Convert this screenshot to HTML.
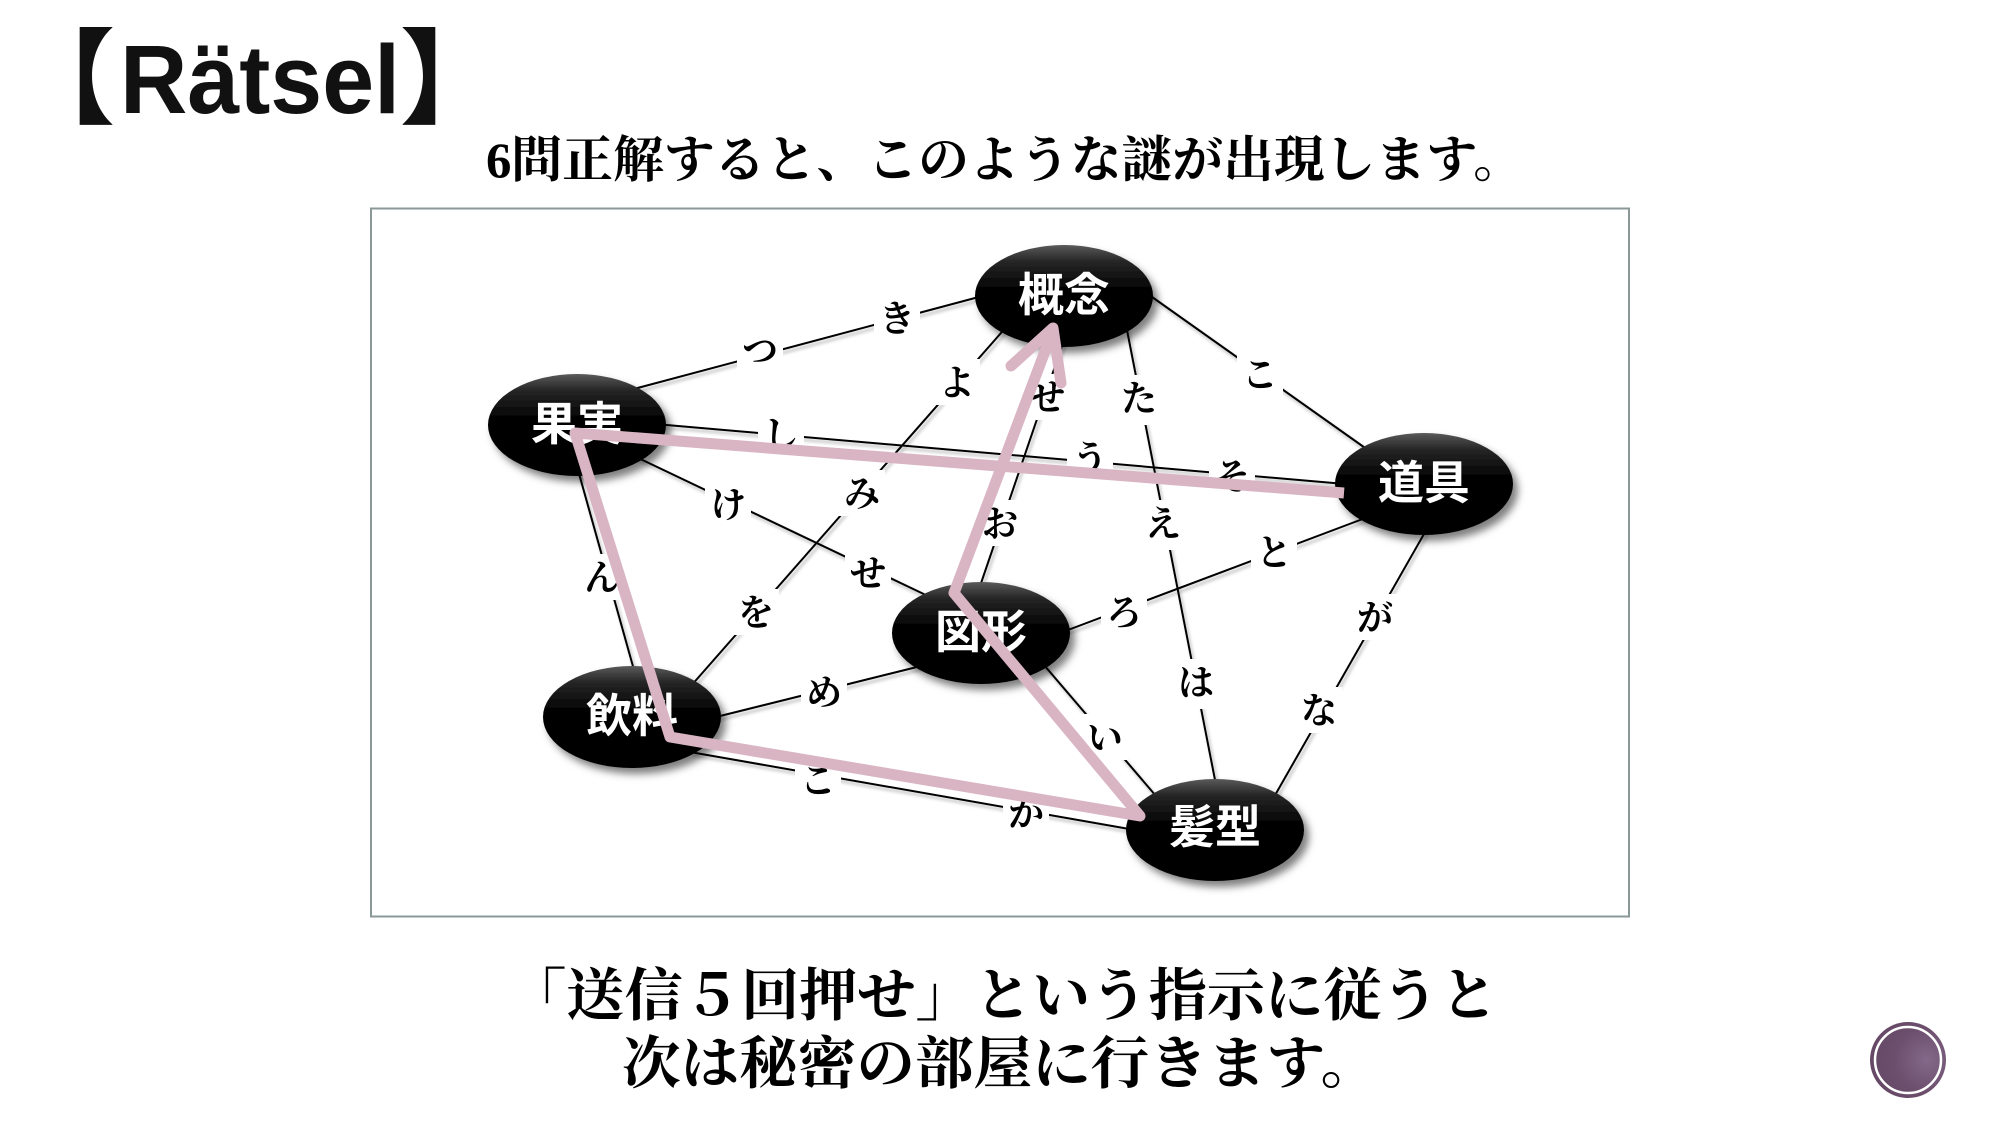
<!DOCTYPE html>
<html>
<head>
<meta charset="utf-8">
<style>
  html,body{margin:0;padding:0;background:#fff;}
  body{width:2000px;height:1125px;overflow:hidden;}
  svg{display:block;}
  .lbl{font-family:"Liberation Serif","Noto Serif CJK SC",serif;font-weight:bold;font-size:36px;fill:#000;text-anchor:middle;}
  .nd{font-family:"Liberation Sans","Noto Sans CJK JP",sans-serif;font-weight:bold;font-size:46px;fill:#fff;text-anchor:middle;}
  .ser{font-family:"Liberation Serif","Noto Serif CJK SC",serif;font-weight:bold;fill:#000;}
</style>
</head>
<body>
<svg width="2000" height="1125" viewBox="0 0 2000 1125" xmlns="http://www.w3.org/2000/svg">
  <defs>
    <linearGradient id="ng" x1="0" y1="0" x2="0" y2="1">
      <stop offset="0" stop-color="#5a5a5a"/>
      <stop offset="0.16" stop-color="#262626"/>
      <stop offset="0.42" stop-color="#050505"/>
      <stop offset="1" stop-color="#000"/>
    </linearGradient>
    <filter id="nsh" x="-30%" y="-30%" width="160%" height="170%">
      <feDropShadow dx="5" dy="6" stdDeviation="4" flood-color="#000" flood-opacity="0.5"/>
    </filter>
    <filter id="lsh" x="-10%" y="-10%" width="120%" height="120%">
      <feDropShadow dx="2" dy="3" stdDeviation="1.5" flood-color="#000" flood-opacity="0.3"/>
    </filter>
    <radialGradient id="cg" cx="0.75" cy="0.5" r="0.7">
      <stop offset="0" stop-color="#85698a"/>
      <stop offset="0.6" stop-color="#6c4f6d"/>
      <stop offset="1" stop-color="#664867"/>
    </radialGradient>
  </defs>

  <!-- Title -->
  <text x="12" y="115" font-family="'Noto Sans CJK JP',sans-serif" font-weight="900" font-size="103" fill="#111">【</text>
  <text x="120" y="113" font-family="'Liberation Sans',sans-serif" font-weight="bold" font-size="97" fill="#111" textLength="280" lengthAdjust="spacingAndGlyphs">Rätsel</text>
  <text x="400" y="115" font-family="'Noto Sans CJK JP',sans-serif" font-weight="900" font-size="103" fill="#111">】</text>

  <!-- Subtitle -->
  <text class="ser" x="486" y="177" font-size="50" textLength="1038" lengthAdjust="spacingAndGlyphs">6問正解すると、このような謎が出現します。</text>

  <!-- Frame -->
  <rect x="371" y="208.5" width="1258" height="708" fill="#fff" stroke="#8a9898" stroke-width="2"/>

  <!-- Connector lines -->
  <g stroke="#000" stroke-width="2" fill="none" filter="url(#lsh)">
    <line x1="630" y1="390" x2="990" y2="294"/>
    <line x1="655" y1="424" x2="1345" y2="484"/>
    <line x1="632" y1="455" x2="930" y2="597"/>
    <line x1="578" y1="470" x2="634" y2="670"/>
    <line x1="690" y1="687" x2="1008" y2="325"/>
    <line x1="712" y1="718" x2="925" y2="665"/>
    <line x1="690" y1="752" x2="1135" y2="830"/>
    <line x1="1064" y1="340" x2="978" y2="592"/>
    <line x1="1126" y1="325" x2="1216" y2="785"/>
    <line x1="1145" y1="292" x2="1368" y2="450"/>
    <line x1="1060" y1="633" x2="1368" y2="517"/>
    <line x1="1428" y1="527" x2="1274" y2="797"/>
    <line x1="1038" y1="658" x2="1156" y2="796"/>
  </g>

  <!-- Label boxes -->
  <g fill="#fff">
    <rect x="737" y="327" width="46" height="46"/>
    <rect x="874" y="295" width="46" height="46"/>
    <rect x="934" y="359" width="46" height="46"/>
    <rect x="758" y="411" width="46" height="46"/>
    <rect x="1067" y="435" width="46" height="46"/>
    <rect x="1209" y="453" width="46" height="46"/>
    <rect x="705" y="481" width="46" height="46"/>
    <rect x="839" y="470" width="46" height="46"/>
    <rect x="845" y="550" width="46" height="46"/>
    <rect x="579" y="554" width="46" height="46"/>
    <rect x="733" y="589" width="46" height="46"/>
    <rect x="801" y="669" width="46" height="46"/>
    <rect x="795" y="757" width="46" height="46"/>
    <rect x="1003" y="790" width="46" height="46"/>
    <rect x="1024" y="374" width="46" height="46"/>
    <rect x="977" y="500" width="46" height="46"/>
    <rect x="1116" y="375" width="46" height="50"/>
    <rect x="1140" y="500" width="46" height="50"/>
    <rect x="1173" y="659" width="46" height="50"/>
    <rect x="1237" y="351" width="46" height="46"/>
    <rect x="1251" y="529" width="46" height="46"/>
    <rect x="1101" y="589" width="46" height="46"/>
    <rect x="1352" y="594" width="46" height="46"/>
    <rect x="1296" y="687" width="46" height="46"/>
    <rect x="1082" y="714" width="46" height="46"/>
  </g>

  <!-- Labels -->
  <g class="lbl">
    <text x="760" y="363">つ</text>
    <text x="897" y="331">き</text>
    <text x="957" y="395">よ</text>
    <text x="781" y="447">し</text>
    <text x="1090" y="471">う</text>
    <text x="1232" y="489">そ</text>
    <text x="728" y="517">け</text>
    <text x="862" y="506">み</text>
    <text x="868" y="586">せ</text>
    <text x="602" y="590">ん</text>
    <text x="756" y="625">を</text>
    <text x="824" y="705">め</text>
    <text x="818" y="793">こ</text>
    <text x="1026" y="826">か</text>
    <text x="1047" y="410">せ</text>
    <text x="1000" y="536">お</text>
    <text x="1139" y="411">た</text>
    <text x="1163" y="536">え</text>
    <text x="1196" y="695">は</text>
    <text x="1260" y="387">こ</text>
    <text x="1274" y="565">と</text>
    <text x="1124" y="625">ろ</text>
    <text x="1375" y="630">が</text>
    <text x="1319" y="723">な</text>
    <text x="1105" y="750">い</text>
  </g>

  <!-- Nodes -->
  <g fill="url(#ng)" filter="url(#nsh)">
    <ellipse cx="1064" cy="296" rx="89" ry="51"/>
    <ellipse cx="577" cy="425" rx="89" ry="51"/>
    <ellipse cx="1424" cy="484" rx="89" ry="51"/>
    <ellipse cx="981" cy="633" rx="89" ry="51"/>
    <ellipse cx="632" cy="717" rx="89" ry="51"/>
    <ellipse cx="1215" cy="830" rx="89" ry="51"/>
  </g>
  <g class="nd">
    <text x="1064" y="311">概念</text>
    <text x="577" y="440">果実</text>
    <text x="1424" y="499">道具</text>
    <text x="981" y="648">図形</text>
    <text x="632" y="732">飲料</text>
    <text x="1215" y="843">髪型</text>
  </g>

  <!-- Pink path -->
  <g stroke="#d9b5c4" stroke-width="11" fill="none" stroke-linejoin="round">
    <polyline points="1344,493 575,433 670,737 1140,816 954,593 1053,330" stroke-linecap="butt"/>
    <polyline points="1011,366 1053,328 1061,383" stroke-linecap="round"/>
  </g>

  <!-- Bottom text -->
  <text class="ser" x="508" y="1015" font-size="57" textLength="990" lengthAdjust="spacingAndGlyphs">「送信５回押せ」という指示に従うと</text>
  <text class="ser" x="622" y="1083" font-size="57" textLength="757" lengthAdjust="spacingAndGlyphs">次は秘密の部屋に行きます。</text>

  <!-- Corner circle -->
  <circle cx="1908" cy="1060" r="38" fill="url(#cg)"/>
  <circle cx="1908" cy="1060" r="33" fill="none" stroke="#fff" stroke-width="2.5"/>
</svg>
</body>
</html>
